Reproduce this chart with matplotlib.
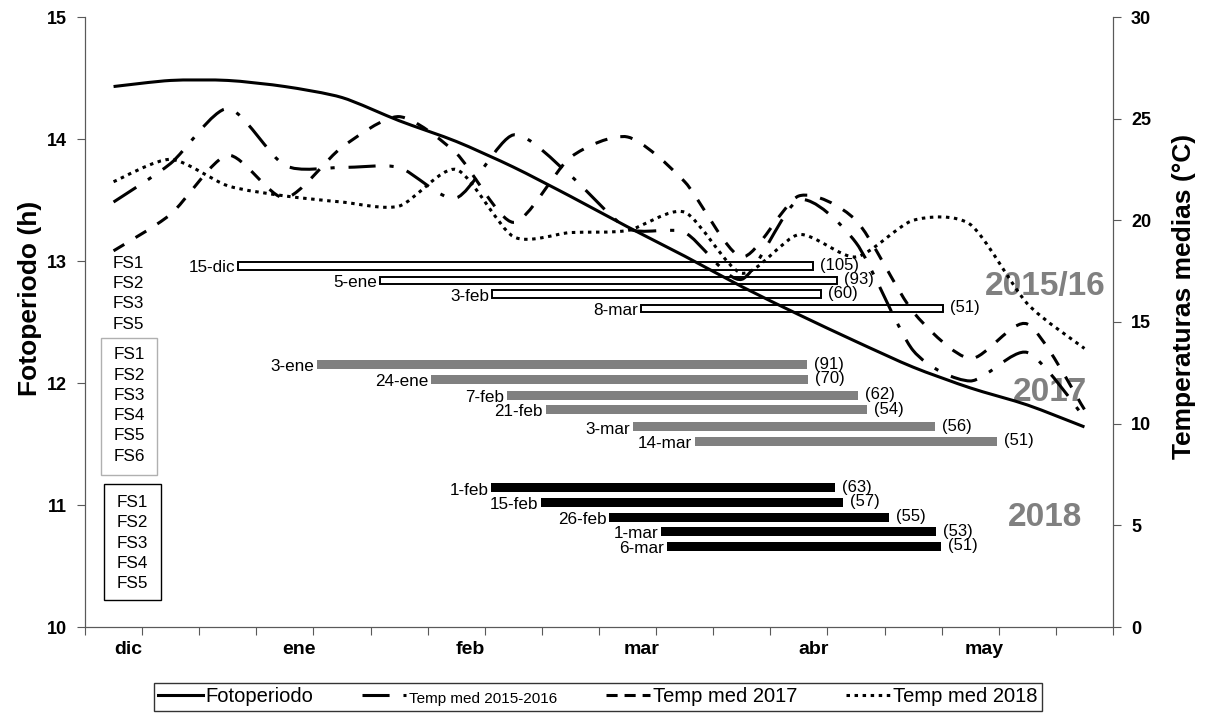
import matplotlib
matplotlib.use("Agg")
import matplotlib.pyplot as plt
import numpy as np
from matplotlib.path import Path
from matplotlib.patches import PathPatch, Rectangle
from matplotlib.lines import Line2D

plt.rcParams["font.family"] = ["Liberation Sans", "DejaVu Sans"]
plt.rcParams["lines.scale_dashes"] = False

# x positions: 18 ten-day slots from dic to may, values at slot centres
slots = np.arange(18) + 0.5
months = ["dic", "ene", "feb", "mar", "abr", "may"]

fotoperiodo = [14.43, 14.48, 14.48, 14.43, 14.34, 14.15, 13.98, 13.77, 13.53,
               13.28, 13.04, 12.79, 12.56, 12.34, 12.13, 11.96, 11.82, 11.64]
temp_2016 = [20.9, 22.8, 25.5, 22.7, 22.6, 22.6, 21.1, 24.2, 22.2,
             19.6, 19.4, 17.1, 21.0, 18.9, 13.6, 12.1, 13.5, 10.3]
temp_2017 = [18.5, 20.3, 23.2, 21.1, 23.6, 25.1, 23.3, 19.9, 23.1,
             24.1, 21.9, 18.2, 21.2, 20.0, 15.5, 13.2, 14.9, 10.7]
temp_2018 = [21.9, 23.0, 21.7, 21.2, 20.9, 20.7, 22.5, 19.2, 19.4,
             19.5, 20.4, 17.4, 19.3, 18.2, 20.0, 19.8, 15.9, 13.7]

# crop cycles: start/end along the x axis, level on the photoperiod axis
c16_labels = ["15-dic", "5-ene", "3-feb", "8-mar"]
c16_days = ["(105)", "(93)", "(60)", "(51)"]
c16_start = [2.68, 5.17, 7.13, 9.74]
c16_end = [12.75, 13.17, 12.89, 15.03]
c16_y = [12.96, 12.84, 12.73, 12.61]
c16_fs = ["FS1", "FS2", "FS3", "FS5"]

c17_labels = ["3-ene", "24-ene", "7-feb", "21-feb", "3-mar", "14-mar"]
c17_days = ["(91)", "(70)", "(62)", "(54)", "(56)", "(51)"]
c17_start = [4.06, 6.06, 7.39, 8.07, 9.60, 10.68]
c17_end = [12.64, 12.66, 13.54, 13.69, 14.89, 15.97]
c17_y = [12.15, 12.03, 11.90, 11.78, 11.64, 11.52]
c17_fs = ["FS1", "FS2", "FS3", "FS4", "FS5", "FS6"]

c18_labels = ["1-feb", "15-feb", "26-feb", "1-mar", "6-mar"]
c18_days = ["(63)", "(57)", "(55)", "(53)", "(51)"]
c18_start = [7.11, 7.99, 9.18, 10.09, 10.19]
c18_end = [13.13, 13.27, 14.08, 14.90, 14.99]
c18_y = [11.14, 11.02, 10.90, 10.78, 10.66]
c18_fs = ["FS1", "FS2", "FS3", "FS4", "FS5"]


def smooth_path(xs, ys, k=8):
    # excel-like smoothed line: bezier through the points
    pts = np.column_stack([xs, ys])
    n = len(pts)
    verts = [pts[0]]
    codes = [Path.MOVETO]
    for i in range(n - 1):
        p0 = pts[i - 1] if i > 0 else pts[i]
        p1, p2 = pts[i], pts[i + 1]
        p3 = pts[i + 2] if i + 2 < n else pts[i + 1]
        verts += [p1 + (p2 - p0) / k, p2 - (p3 - p1) / k, p2]
        codes += [Path.CURVE4] * 3
    return Path(verts, codes)


W, H = 1209, 715
fig = plt.figure(figsize=(W / 100, H / 100), dpi=100)
ax = fig.add_axes([85 / W, 1 - 627 / H, (1113 - 85) / W, (627 - 17) / H])
ax2 = ax.twinx()

spine_col = "#595959"
for a in (ax, ax2):
    for s in a.spines.values():
        s.set_color(spine_col)
    a.spines["top"].set_visible(False)

ax.set_xlim(0, 18)
ax.set_ylim(10, 15)
ax2.set_ylim(0, 30)
ax.set_yticks(range(10, 16))
ax2.set_yticks(range(0, 31, 5))
ax.set_xticks(range(0, 19))
ax.set_xticklabels([])
ax.set_xticks([0.75 + 3 * i for i in range(len(months))], minor=True)
ax.set_xticklabels(months, minor=True)
ax.tick_params(axis="x", which="major", direction="out", length=6, color=spine_col)
ax.tick_params(axis="x", which="minor", length=0, pad=10, labelsize=14)
ax.tick_params(axis="y", direction="out", length=6, pad=7, labelsize=13, color=spine_col)
ax2.tick_params(axis="y", direction="out", length=6, pad=7, labelsize=13, color=spine_col)
for lab in ax.get_xticklabels(minor=True) + ax.get_yticklabels() + ax2.get_yticklabels():
    lab.set_fontweight("bold")

fig.text(30 / W, 1 - 298 / H, "Fotoperiodo (h)", rotation=90, ha="center", va="center",
         fontsize=19, fontweight="bold")
fig.text(1184 / W, 1 - 296 / H, "Temperaturas medias (°C)", rotation=90, ha="center",
         va="center", fontsize=19, fontweight="bold")

# bars
def draw_cycle(start, end, ys, labels, days, height, face, edge):
    widths = np.array(end) - np.array(start)
    ax.barh(ys, widths, left=start, height=height, color=face, edgecolor=edge,
            linewidth=1.4 if edge != "none" else 0, zorder=2)
    for s, e, y, l, d in zip(start, end, ys, labels, days):
        ax.annotate(l, (s, y), xytext=(-2, -1.5), textcoords="offset points",
                    ha="right", va="center", fontsize=12.3, zorder=4)
        ax.annotate(d, (e, y), xytext=(5, 0.5), textcoords="offset points",
                    ha="left", va="center", fontsize=12, zorder=4)

draw_cycle(c16_start, c16_end, c16_y, c16_labels, c16_days, 0.062, "white", "black")
draw_cycle(c17_start, c17_end, c17_y, c17_labels, c17_days, 0.074, "#808080", "none")
draw_cycle(c18_start, c18_end, c18_y, c18_labels, c18_days, 0.074, "black", "none")

# FS lists
step = 0.166
for i, t in enumerate(c16_fs):
    ax.text(0.75, 12.98 - i * step, t, ha="center", va="center", fontsize=12.3)
for i, t in enumerate(c17_fs):
    ax.text(0.77, 12.23 - i * step, t, ha="center", va="center", fontsize=12.3)
ax.add_patch(Rectangle((0.28, 11.25), 0.98, 1.12, fill=False, edgecolor="#b0b0b0", lw=1))
for i, t in enumerate(c18_fs):
    ax.text(0.83, 11.02 - i * step, t, ha="center", va="center", fontsize=12.3)
ax.add_patch(Rectangle((0.33, 10.22), 1.0, 0.95, fill=False, edgecolor="black", lw=1))

# season labels
for x, y, t in [(16.81, 12.79, "2015/16"), (16.9, 11.92, "2017"), (16.81, 10.90, "2018")]:
    ax.text(x, y, t, ha="center", va="center", fontsize=24, fontweight="bold",
            color="#808080", zorder=1)

# lines
ls_foto = "-"
ls_16 = (0, (19.5, 10, 3, 10))
ls_17 = (0, (9, 9.5))
ls_18 = (0, (2.5, 3.3))
lw = 2.2
ax.add_patch(PathPatch(smooth_path(slots, fotoperiodo), fill=False, lw=lw,
                       edgecolor="black", zorder=3, capstyle="butt"))
for vals, ls in [(temp_2016, ls_16), (temp_2017, ls_17), (temp_2018, ls_18)]:
    ax2.add_patch(PathPatch(smooth_path(slots, vals), fill=False, lw=lw,
                            edgecolor="black", linestyle=ls, capstyle="butt"))

handles = [Line2D([], [], color="black", lw=lw, ls=ls_foto),
           Line2D([], [], color="black", lw=lw, ls=ls_16),
           Line2D([], [], color="black", lw=lw, ls=(0, (8, 5))),
           Line2D([], [], color="black", lw=lw, ls=ls_18)]
names = ["Fotoperiodo", "Temp med 2015-2016", "Temp med 2017", "Temp med 2018"]
leg = fig.legend(handles, names, loc="center", bbox_to_anchor=(598 / W, 1 - 697 / H),
                 ncol=4, fontsize=14.5, frameon=True, fancybox=False, handlelength=2.2,
                 handletextpad=0.15, columnspacing=2.4, borderpad=0.2, borderaxespad=0)
leg.get_frame().set_edgecolor("black")
leg.get_frame().set_linewidth(1)
leg.get_texts()[1].set_fontsize(11)

fig.savefig("out.png", dpi=100)
